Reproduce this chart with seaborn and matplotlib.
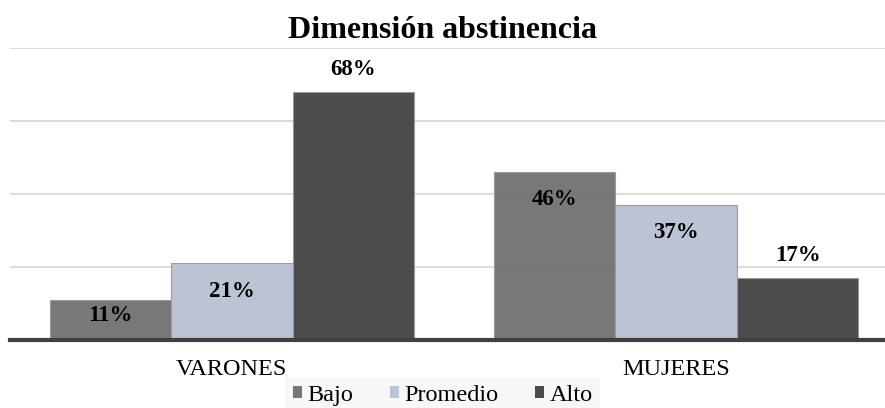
import matplotlib.pyplot as plt
import pandas as pd
import seaborn as sns

# data
grupos = ['VARONES', 'MUJERES']
niveles = ['Bajo', 'Promedio', 'Alto']
bajo = [0.11, 0.46]
promedio = [0.21, 0.37]
alto = [0.68, 0.17]
colores = ['#727272', '#b8c2d2', '#444444']

df = pd.DataFrame({
    'grupo': grupos * 3,
    'nivel': [n for n in niveles for _ in grupos],
    'valor': bajo + promedio + alto,
})

sns.set_theme(style='white')
plt.rcParams['font.family'] = 'serif'
plt.rcParams['font.serif'] = ['Liberation Serif', 'DejaVu Serif']
plt.rcParams['text.color'] = 'black'
plt.rcParams['xtick.color'] = 'black'

fig = plt.figure(figsize=(8.85, 4.08), dpi=100)
ax = fig.add_axes([0.011, 0.167, 0.989, 0.715])

sns.barplot(data=df, x='grupo', y='valor', hue='nivel', hue_order=niveles,
            palette=colores, width=0.82, ax=ax, saturation=1,
            edgecolor='#9a9a9a', linewidth=0.8, alpha=0.96, zorder=3)

ax.set_ylim(0, 0.8)
ax.set_xlim(-0.5, 1.47)
ax.set_yticks([0.2, 0.4, 0.6, 0.8])
ax.yaxis.grid(True, color='#d9d9d9', linewidth=1.3, zorder=0)
ax.set_axisbelow(True)
ax.tick_params(axis='y', left=False, labelleft=False)
ax.tick_params(axis='x', bottom=False, labelsize=17.5, pad=8)
ax.set_xlabel('')
ax.set_ylabel('')
for s in ['top', 'right', 'left']:
    ax.spines[s].set_visible(False)
ax.spines['bottom'].set_color('#404040')
ax.spines['bottom'].set_linewidth(3)
ax.spines['bottom'].set_zorder(5)

# Bajo / Promedio labels inside the bar top, Alto above
for cont, nivel in zip(ax.containers, niveles):
    for barra, v in zip(cont, cont.datavalues):
        if nivel == 'Alto':
            dy = 16
        elif v < 0.15:
            dy = -11
        else:
            dy = -20
        ax.annotate(f'{v * 100:.0f}%',
                    (barra.get_x() + barra.get_width() / 2, barra.get_height()),
                    xytext=(0, dy), textcoords='offset points', ha='center',
                    va='center', fontsize=16.5, fontweight='bold', zorder=6)

fig.text(0.5, 0.925, 'Dimensión abstinencia', ha='center', va='center',
         fontsize=23, fontweight='bold')

leg = ax.legend(loc='lower center', bbox_to_anchor=(0.5, -0.012),
                bbox_transform=fig.transFigure, ncol=3,
                prop={'family': 'serif', 'size': 17.5},
                frameon=True, facecolor='#f6f6f6', edgecolor='none',
                fancybox=False, handlelength=0.4, handleheight=0.4,
                handletextpad=0.2, columnspacing=1.5, borderpad=0.3,
                borderaxespad=0.0, title=None)
for h in leg.legend_handles:
    h.set_edgecolor('none')

fig.savefig('out.png', dpi=100)
